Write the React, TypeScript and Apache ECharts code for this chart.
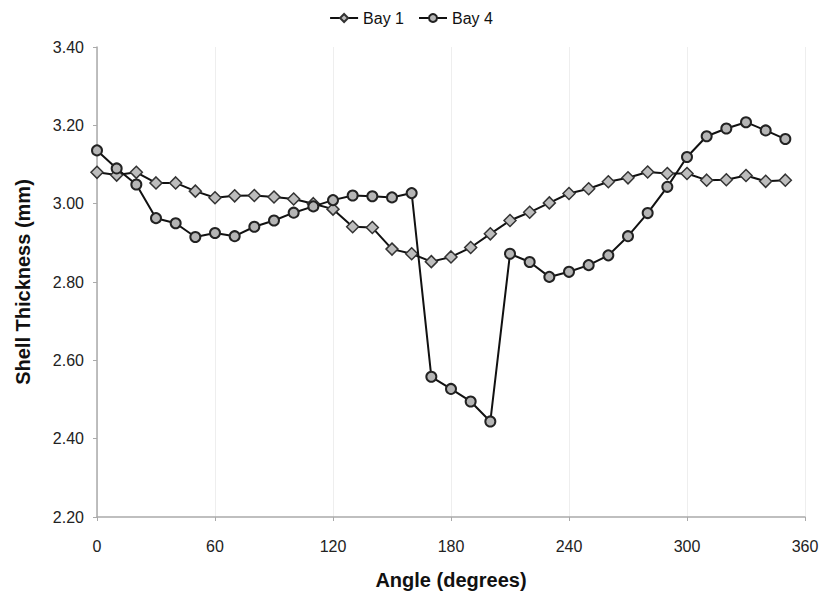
import React, { useEffect, useRef } from "react";
import * as echarts from "echarts";

const angles = [0, 10, 20, 30, 40, 50, 60, 70, 80, 90, 100, 110, 120, 130, 140, 150, 160, 170, 180, 190, 200, 210, 220, 230, 240, 250, 260, 270, 280, 290, 300, 310, 320, 330, 340, 350];

const bay1 = [3.080, 3.073, 3.080, 3.053, 3.053, 3.032, 3.015, 3.020, 3.021, 3.017, 3.012, 3.000, 2.986, 2.941, 2.939, 2.884, 2.872, 2.852, 2.864, 2.888, 2.923, 2.957, 2.978, 3.002, 3.026, 3.038, 3.056, 3.066, 3.081, 3.077, 3.077, 3.060, 3.061, 3.072, 3.057, 3.060];

const bay4 = [3.136, 3.090, 3.049, 2.963, 2.950, 2.915, 2.925, 2.917, 2.941, 2.957, 2.977, 2.993, 3.009, 3.021, 3.019, 3.016, 3.027, 2.558, 2.527, 2.495, 2.444, 2.872, 2.851, 2.813, 2.826, 2.843, 2.868, 2.917, 2.976, 3.043, 3.119, 3.172, 3.192, 3.208, 3.187, 3.165];

const seriesNames = ["Bay 1", "Bay 4"];
const xTitle = "Angle (degrees)";
const yTitle = "Shell Thickness (mm)";

export default function App() {
  const ref = useRef<HTMLDivElement>(null);
  useEffect(() => {
    if (!ref.current) return;
    const chart = echarts.init(ref.current, null, { renderer: "svg" });
    const font = "'Liberation Sans', Arial, sans-serif";
    const mk = (ys: number[]) => angles.map((a, i) => [a, ys[i]]);
    chart.setOption({
      animation: false,
      backgroundColor: "#ffffff",
      textStyle: { fontFamily: font },
      legend: {
        top: 5,
        left: "center",
        itemWidth: 28,
        itemHeight: 10,
        itemGap: 14,
        textStyle: { fontFamily: font, fontSize: 16, color: "#111" },
        data: seriesNames,
      },
      grid: { left: 97, right: 17, top: 47, bottom: 84 },
      xAxis: {
        type: "value",
        min: 0,
        max: 360,
        interval: 60,
        name: xTitle,
        nameLocation: "middle",
        nameGap: 53,
        nameTextStyle: { fontFamily: font, fontSize: 20, fontWeight: "bold", color: "#111" },
        axisLine: { show: true, lineStyle: { color: "#aaa", width: 1.5 } },
        axisTick: { show: true, inside: false, length: 4, lineStyle: { color: "#aaa" } },
        axisLabel: { fontFamily: font, fontSize: 16, color: "#222", margin: 21 },
        splitLine: { show: true, lineStyle: { color: "#eeeeee", width: 1 } },
      },
      yAxis: {
        type: "value",
        min: 2.2,
        max: 3.4,
        interval: 0.2,
        name: yTitle,
        nameLocation: "middle",
        nameGap: 64,
        nameTextStyle: { fontFamily: font, fontSize: 20, fontWeight: "bold", color: "#111" },
        axisLine: { show: true, lineStyle: { color: "#aaa", width: 1.5 } },
        axisTick: { show: true, inside: false, length: 4, lineStyle: { color: "#aaa" } },
        axisLabel: {
          fontFamily: font,
          fontSize: 16,
          color: "#222",
          margin: 13,
          formatter: (v: number) => v.toFixed(2),
        },
        splitLine: { show: false },
      },
      series: [
        {
          name: seriesNames[0],
          type: "line",
          data: mk(bay1),
          symbol: "diamond",
          symbolSize: 12,
          lineStyle: { color: "#111", width: 2 },
          itemStyle: { color: "#bdbdbd", borderColor: "#333", borderWidth: 1.5 },
          z: 2,
        },
        {
          name: seriesNames[1],
          type: "line",
          data: mk(bay4),
          symbol: "circle",
          symbolSize: 10,
          lineStyle: { color: "#111", width: 2 },
          itemStyle: { color: "#b5b5b5", borderColor: "#222", borderWidth: 2 },
          z: 3,
        },
      ],
    });
    return () => chart.dispose();
  }, []);
  return <div ref={ref} style={{ position: "fixed", left: 0, top: 0, width: 822, height: 601 }} />;
}
